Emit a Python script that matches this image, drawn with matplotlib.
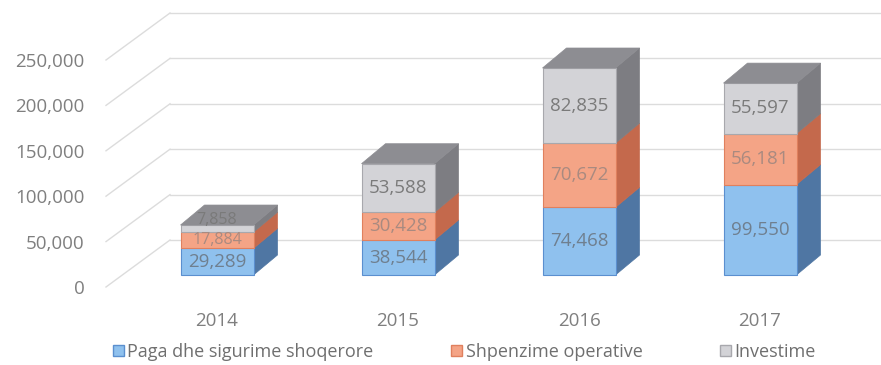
import matplotlib.pyplot as plt
from matplotlib.patches import Polygon, Patch

# Dati: shpenzimet sipas viteve
vitet = ['2014', '2015', '2016', '2017']
paga = [29289, 38544, 74468, 99550]
operative = [17884, 30428, 70672, 56181]
investime = [7858, 53588, 82835, 55597]
nivelet = [0, 50000, 100000, 150000, 200000, 250000]

seri = [
    ('Paga dhe sigurime shoqerore', paga, '#8fc1ee', '#4f76a3', '#5b8fcf', '#6f7f8f'),
    ('Shpenzime operative', operative, '#f4a486', '#c4694c', '#e0805e', '#a98a80'),
    ('Investime', investime, '#d3d3d7', '#7d7d82', '#a8a8ad', '#7a7a7a'),
]

plt.rcParams['font.family'] = ['Open Sans', 'DejaVu Sans']

# shkalla: 1 px ne boshtin y dhe x (ne njesi te te dhenave)
py = 1000 / 0.908
px = 1 / 181.0

fig = plt.figure(figsize=(8.81, 3.65), dpi=100)
ax = fig.add_axes([100 / 881, 65 / 365, 781 / 881, 300 / 365])
ax.set_xlim(-117 * px, 664 * px)
ax.set_ylim(-25 * py, 275 * py)

# efekti 3D
gjeresia = 73 * px
dx = 24 * px
dy = 20 * py
para = -12 * py
prapa = 35 * py
x_para = -111 * px
x_prapa = -47 * px

# rrjeti ne murin e pasme dhe murin anesor
for v in nivelet:
    ax.plot([x_para, x_prapa], [v + para, v + prapa], color='#dcdcdc', lw=1, zorder=1)
    ax.plot([x_prapa, 664 * px], [v + prapa, v + prapa], color='#dcdcdc', lw=1, zorder=1)

ax.set_yticks([v + para for v in nivelet])
ax.set_yticklabels([f'{v:,}' for v in nivelet])
ax.set_xticks(range(len(vitet)))
ax.set_xticklabels(vitet)
ax.tick_params(length=0, labelsize=13.5, colors='#7f7f7f')
ax.tick_params(axis='y', pad=11)
ax.tick_params(axis='x', pad=9)
for s in ax.spines.values():
    s.set_visible(False)

fundi = [0] * len(vitet)
for emri, vlerat, ngjyra, anesore, kufiri, teksti in seri:
    for i, v in enumerate(vlerat):
        b = fundi[i]
        t = b + v
        l = i - gjeresia / 2
        r = i + gjeresia / 2
        ax.bar(i, v, gjeresia, bottom=b, color=ngjyra, edgecolor=kufiri, lw=0.8, zorder=3)
        ax.add_patch(Polygon([(r, b), (r + dx, b + dy), (r + dx, t + dy), (r, t)],
                             closed=True, fc=anesore, ec=anesore, lw=0.5, zorder=2))
        # segmentet e vegjel: etiketa me e vogel, ajo e fundit ngjitet drejt majes
        if v > 20000:
            ax.text(i, b + v / 2, f'{v:,}', ha='center', va='center', fontsize=13.5,
                    color=teksti, zorder=5)
        else:
            ypos = t + 0.25 * dy if v < 10000 else b + v / 2
            ax.text(i, ypos, f'{v:,}', ha='center', va='center', fontsize=11.5,
                    color=teksti, zorder=5)
        fundi[i] = t

# kapaku i siperm i shtyllave
for i, t in enumerate(fundi):
    l = i - gjeresia / 2
    r = i + gjeresia / 2
    ax.add_patch(Polygon([(l, t), (r, t), (r + dx, t + dy), (l + dx, t + dy)],
                         closed=True, fc='#8d8d92', ec='#8d8d92', lw=0.5, zorder=4))

handles = [Patch(facecolor=s[2], edgecolor=s[4], label=s[0]) for s in seri]
fig.legend(handles=handles, loc='center', bbox_to_anchor=(0.527, 0.036), ncol=3,
           frameon=False, fontsize=13, labelcolor='#6f6f6f', handlelength=0.6,
           handleheight=0.6, handletextpad=0.2, columnspacing=4.3)

fig.savefig('out.png', dpi=100)
